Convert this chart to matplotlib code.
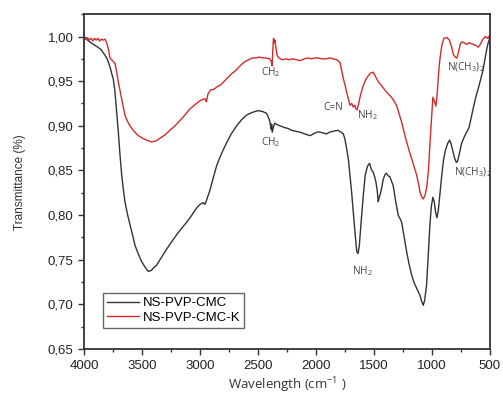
import matplotlib
matplotlib.use("Agg")
import matplotlib.pyplot as plt
from matplotlib.ticker import MultipleLocator, FuncFormatter

plt.rcParams['font.family'] = ['Liberation Sans', 'DejaVu Sans']
plt.rcParams['mathtext.fontset'] = 'custom'
plt.rcParams['mathtext.rm'] = 'Open Sans'
plt.rcParams['mathtext.it'] = 'Open Sans:italic'

# NS-PVP-CMC (black)
wn_cmc = [4000, 3970, 3940, 3905, 3880, 3850, 3819, 3800, 3776, 3760, 3747, 3733,
          3718, 3704, 3690, 3675, 3660, 3647, 3625, 3603, 3580, 3560, 3530, 3503,
          3475, 3446, 3420, 3400, 3374, 3330, 3287, 3245, 3201, 3160, 3115, 3070,
          3029, 3000, 2972, 2957, 2940, 2914, 2885, 2857, 2830, 2800, 2770, 2730,
          2684, 2640, 2598, 2550, 2500, 2460, 2426, 2405, 2395, 2388, 2382, 2376,
          2368, 2355, 2330, 2310, 2270, 2240, 2210, 2180, 2138, 2100, 2052, 2020,
          1990, 1966, 1940, 1910, 1880, 1850, 1810, 1785, 1764, 1750, 1736, 1720,
          1707, 1692, 1678, 1663, 1648, 1637, 1626, 1615, 1603, 1590, 1575, 1555,
          1538, 1522, 1506, 1494, 1483, 1472, 1463, 1455, 1448, 1434, 1420, 1406,
          1392, 1378, 1363, 1348, 1334, 1312, 1291, 1275, 1261, 1240, 1218, 1197,
          1175, 1153, 1132, 1117, 1103, 1090, 1075, 1062, 1046, 1030, 1017, 1005,
          992, 980, 968, 957, 945, 930, 915, 900, 885, 865, 848, 835, 820, 805,
          790, 780, 765, 745, 720, 700, 680, 660, 640, 620, 600, 580, 560, 545,
          530, 515, 500]
tr_cmc = [1.000, 0.996, 0.993, 0.990, 0.988, 0.985, 0.979, 0.975, 0.966, 0.958, 0.952, 0.938,
          0.915, 0.893, 0.868, 0.845, 0.828, 0.815, 0.801, 0.789, 0.777, 0.766, 0.756, 0.748,
          0.742, 0.737, 0.738, 0.741, 0.744, 0.753, 0.762, 0.770, 0.778, 0.785, 0.792, 0.800,
          0.808, 0.812, 0.814, 0.812, 0.818, 0.828, 0.842, 0.855, 0.864, 0.873, 0.881, 0.891,
          0.900, 0.907, 0.912, 0.915, 0.917, 0.916, 0.914, 0.908, 0.903, 0.896, 0.902, 0.893,
          0.898, 0.903, 0.901, 0.900, 0.898, 0.897, 0.895, 0.894, 0.893, 0.891, 0.889, 0.891,
          0.893, 0.893, 0.892, 0.891, 0.893, 0.894, 0.895, 0.893, 0.891, 0.885, 0.875, 0.862,
          0.845, 0.825, 0.803, 0.780, 0.759, 0.757, 0.766, 0.785, 0.804, 0.825, 0.845, 0.855,
          0.858, 0.851, 0.848, 0.843, 0.837, 0.828, 0.815, 0.820, 0.822, 0.830, 0.840, 0.845,
          0.847, 0.844, 0.843, 0.838, 0.833, 0.815, 0.800, 0.796, 0.792, 0.776, 0.759, 0.745,
          0.733, 0.724, 0.718, 0.714, 0.710, 0.704, 0.699, 0.705, 0.722, 0.760, 0.790, 0.810,
          0.820, 0.815, 0.803, 0.797, 0.805, 0.825, 0.845, 0.862, 0.872, 0.880, 0.884, 0.880,
          0.872, 0.864, 0.859, 0.860, 0.868, 0.880, 0.888, 0.893, 0.898, 0.910, 0.922, 0.933,
          0.942, 0.952, 0.962, 0.973, 0.984, 0.993, 0.998]

# NS-PVP-CMC-K (red)
wn_k = [4000, 3985, 3970, 3955, 3940, 3925, 3910, 3895, 3880, 3865, 3850, 3835, 3819,
        3805, 3790, 3776, 3755, 3733, 3718, 3704, 3690, 3675, 3660, 3647, 3625, 3603,
        3570, 3532, 3495, 3460, 3417, 3380, 3345, 3300, 3259, 3215, 3172, 3130, 3086,
        3040, 3000, 2970, 2955, 2945, 2930, 2910, 2880, 2850, 2820, 2790, 2760, 2730,
        2700, 2670, 2640, 2610, 2580, 2550, 2520, 2490, 2460, 2430, 2400, 2385, 2378,
        2372, 2366, 2360, 2354, 2346, 2335, 2320, 2290, 2260, 2230, 2200, 2170, 2138,
        2100, 2070, 2040, 2010, 1980, 1950, 1912, 1880, 1851, 1820, 1793, 1778, 1764,
        1750, 1736, 1720, 1707, 1692, 1678, 1666, 1655, 1645, 1635, 1615, 1592, 1570,
        1549, 1530, 1506, 1490, 1478, 1456, 1434, 1412, 1392, 1370, 1349, 1328, 1306,
        1284, 1261, 1240, 1218, 1196, 1175, 1153, 1132, 1117, 1103, 1090, 1075, 1060,
        1046, 1030, 1017, 1005, 992, 980, 966, 955, 945, 931, 915, 897, 871, 850, 830,
        815, 800, 785, 770, 755, 740, 720, 700, 680, 660, 640, 620, 600, 580, 560, 540,
        520, 510, 500]
tr_k = [1.000, 0.997, 0.999, 0.996, 0.998, 0.995, 0.998, 0.996, 0.998, 0.995, 0.997, 0.996, 0.997,
        0.993, 0.986, 0.976, 0.973, 0.970, 0.960, 0.949, 0.940, 0.930, 0.920, 0.912, 0.905, 0.900,
        0.894, 0.889, 0.886, 0.884, 0.882, 0.883, 0.886, 0.890, 0.895, 0.900, 0.906, 0.912, 0.919,
        0.924, 0.928, 0.930, 0.930, 0.927, 0.936, 0.940, 0.941, 0.944, 0.946, 0.950, 0.954, 0.958,
        0.961, 0.965, 0.969, 0.972, 0.974, 0.976, 0.976, 0.977, 0.976, 0.976, 0.975, 0.972, 0.967,
        0.985, 0.998, 0.993, 0.996, 0.988, 0.979, 0.976, 0.974, 0.975, 0.974, 0.975, 0.974, 0.973,
        0.975, 0.976, 0.975, 0.976, 0.976, 0.975, 0.975, 0.976, 0.975, 0.974, 0.971, 0.962, 0.953,
        0.946, 0.938, 0.930, 0.923, 0.925, 0.921, 0.923, 0.919, 0.918, 0.923, 0.935, 0.945, 0.952,
        0.956, 0.959, 0.960, 0.956, 0.953, 0.948, 0.945, 0.941, 0.938, 0.935, 0.932, 0.928, 0.923,
        0.914, 0.904, 0.893, 0.882, 0.872, 0.863, 0.854, 0.845, 0.836, 0.826, 0.821, 0.818, 0.822,
        0.830, 0.850, 0.880, 0.905, 0.932, 0.928, 0.922, 0.935, 0.955, 0.975, 0.990, 0.998, 0.999, 0.996, 0.988,
        0.980, 0.977, 0.976, 0.983, 0.992, 0.994, 0.993, 0.991, 0.993, 0.992, 0.991, 0.990, 0.988, 0.992, 0.997, 1.000,
        0.998, 1.000, 0.995]

# peak labels: (text, wavenumber, transmittance)
labels = [("CH$_2$", 2390, 0.960),
          ("CH$_2$", 2385, 0.882),
          ("C=N", 1850, 0.920),
          ("NH$_2$", 1560, 0.912),
          ("NH$_2$", 1600, 0.737),
          ("N(CH$_3$)$_2$", 705, 0.966),
          ("N(CH$_3$)$_2$", 645, 0.848)]

fig = plt.figure(figsize=(5.03, 3.94), dpi=100)
ax = fig.add_axes([0.167, 0.114, 0.807, 0.850])

ax.plot(wn_cmc, tr_cmc, color='#333333', lw=1.0, label='NS-PVP-CMC')
ax.plot(wn_k, tr_k, color='#d42a2a', lw=1.0, label='NS-PVP-CMC-K')

for txt, x, y in labels:
    ax.text(x, y, txt, ha='center', va='center', fontsize=7.3, color='#444444',
            family='Open Sans', clip_on=False)

ax.set_xlim(4000, 500)
ax.set_ylim(0.65, 1.025)
ax.xaxis.set_major_locator(MultipleLocator(500))
ax.xaxis.set_minor_locator(MultipleLocator(250))
ax.yaxis.set_major_locator(MultipleLocator(0.05))
ax.yaxis.set_minor_locator(MultipleLocator(0.025))
ax.yaxis.set_major_formatter(FuncFormatter(lambda v, p: f"{v:.2f}".replace('.', ',')))

ax.tick_params(which='major', direction='out', length=4, width=1, labelsize=9.5,
               colors='#333333', labelcolor='#222222')
ax.tick_params(which='minor', direction='out', length=2.5, width=1, colors='#333333')
for s in ax.spines.values():
    s.set_color('#333333')
    s.set_linewidth(1.3)

ax.set_ylabel('Transmittance (%)', fontsize=8.5, color='#333333')
ax.yaxis.set_label_coords(-0.143, 0.5)
ax.set_xlabel('Wavelength (cm$^{-1}$ )', fontsize=9.5, color='#333333', family='Open Sans')
ax.xaxis.set_label_coords(0.5, -0.080)

leg = ax.legend(loc='lower left', bbox_to_anchor=(0.047, 0.063), borderaxespad=0,
                fontsize=9.5, fancybox=False, framealpha=1, edgecolor='#666666',
                borderpad=0.3, labelspacing=0.2, handlelength=2.4, handletextpad=0.3)
leg.get_frame().set_linewidth(1.0)

fig.savefig('out.png', dpi=100)
